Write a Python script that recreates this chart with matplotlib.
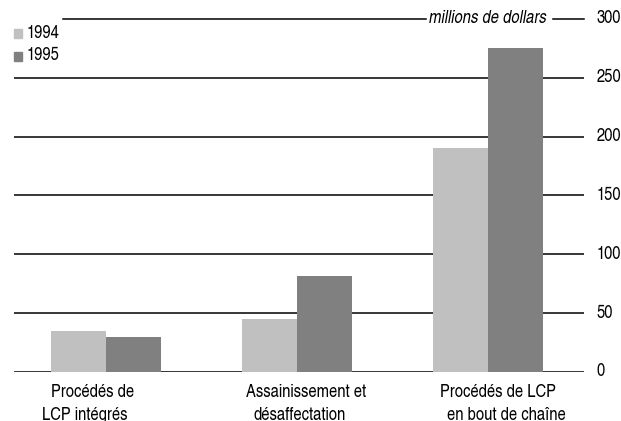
import numpy as np
import matplotlib
matplotlib.use("Agg")
import matplotlib.pyplot as plt

plt.rcParams['font.family'] = ['TeX Gyre Heros Cn', 'Liberation Sans', 'DejaVu Sans']

categories = [["Procédés de", "LCP intégrés"],
              ["Assainissement et", "désaffectation"],
              ["Procédés de LCP", "en bout de chaîne"]]
years = ["1994", "1995"]
values_1994 = [35, 45, 190]
values_1995 = [30, 82, 275]
yticks = [0, 50, 100, 150, 200, 250, 300]

c94 = "#c0c0c0"
c95 = "#808080"
fs = 13

fig = plt.figure(figsize=(6.21, 4.21), dpi=100)
ax = fig.add_axes([14 / 621, 49 / 421, 570 / 621, 353 / 421])

x = np.arange(len(categories))
w = 0.288
ax.bar(x - w / 2, values_1994, w, color=c94, zorder=2)
ax.bar(x + w / 2, values_1995, w, color=c95, zorder=2)

ax.set_xlim(-0.482, 2.503)
ax.set_ylim(0, 300)

# horizontal rules, the top one is broken by the unit label
for v in yticks[:-1]:
    ax.axhline(v, color="black", lw=1.1, zorder=1)
ax.plot([-0.224, 1.675], [300, 300], color="black", lw=1.1, clip_on=False)
ax.plot([2.34, 2.503], [300, 300], color="black", lw=1.1, clip_on=False)
ax.text(2.0, 300, "millions de dollars", style="italic", fontsize=fs,
        ha="center", va="center")

for s in ax.spines.values():
    s.set_visible(False)
ax.set_xticks([])
ax.set_yticks([])
for v in yticks:
    ax.text(1.022, v / 300, str(v), transform=ax.transAxes, fontsize=fs,
            ha="left", va="center")

# category labels on two lines
offsets = [(-0.07, -0.11), (0.047, 0.016), (0.052, 0.094)]
for i, lines in enumerate(categories):
    ax.text(i + offsets[i][0], -17, lines[0], fontsize=fs, ha="center", va="center")
    ax.text(i + offsets[i][1], -37, lines[1], fontsize=fs, ha="center", va="center")

# legend
for j, (lab, col) in enumerate(zip(years, [c94, c95])):
    yy = 1 - (33 + 23 * j) / 421
    fig.patches.append(plt.Rectangle((14 / 621, yy - 4.5 / 421), 8 / 621, 9 / 421,
                                     color=col, transform=fig.transFigure))
    fig.text(27 / 621, yy, lab, fontsize=fs, ha="left", va="center")

fig.savefig("out.png", dpi=100)
